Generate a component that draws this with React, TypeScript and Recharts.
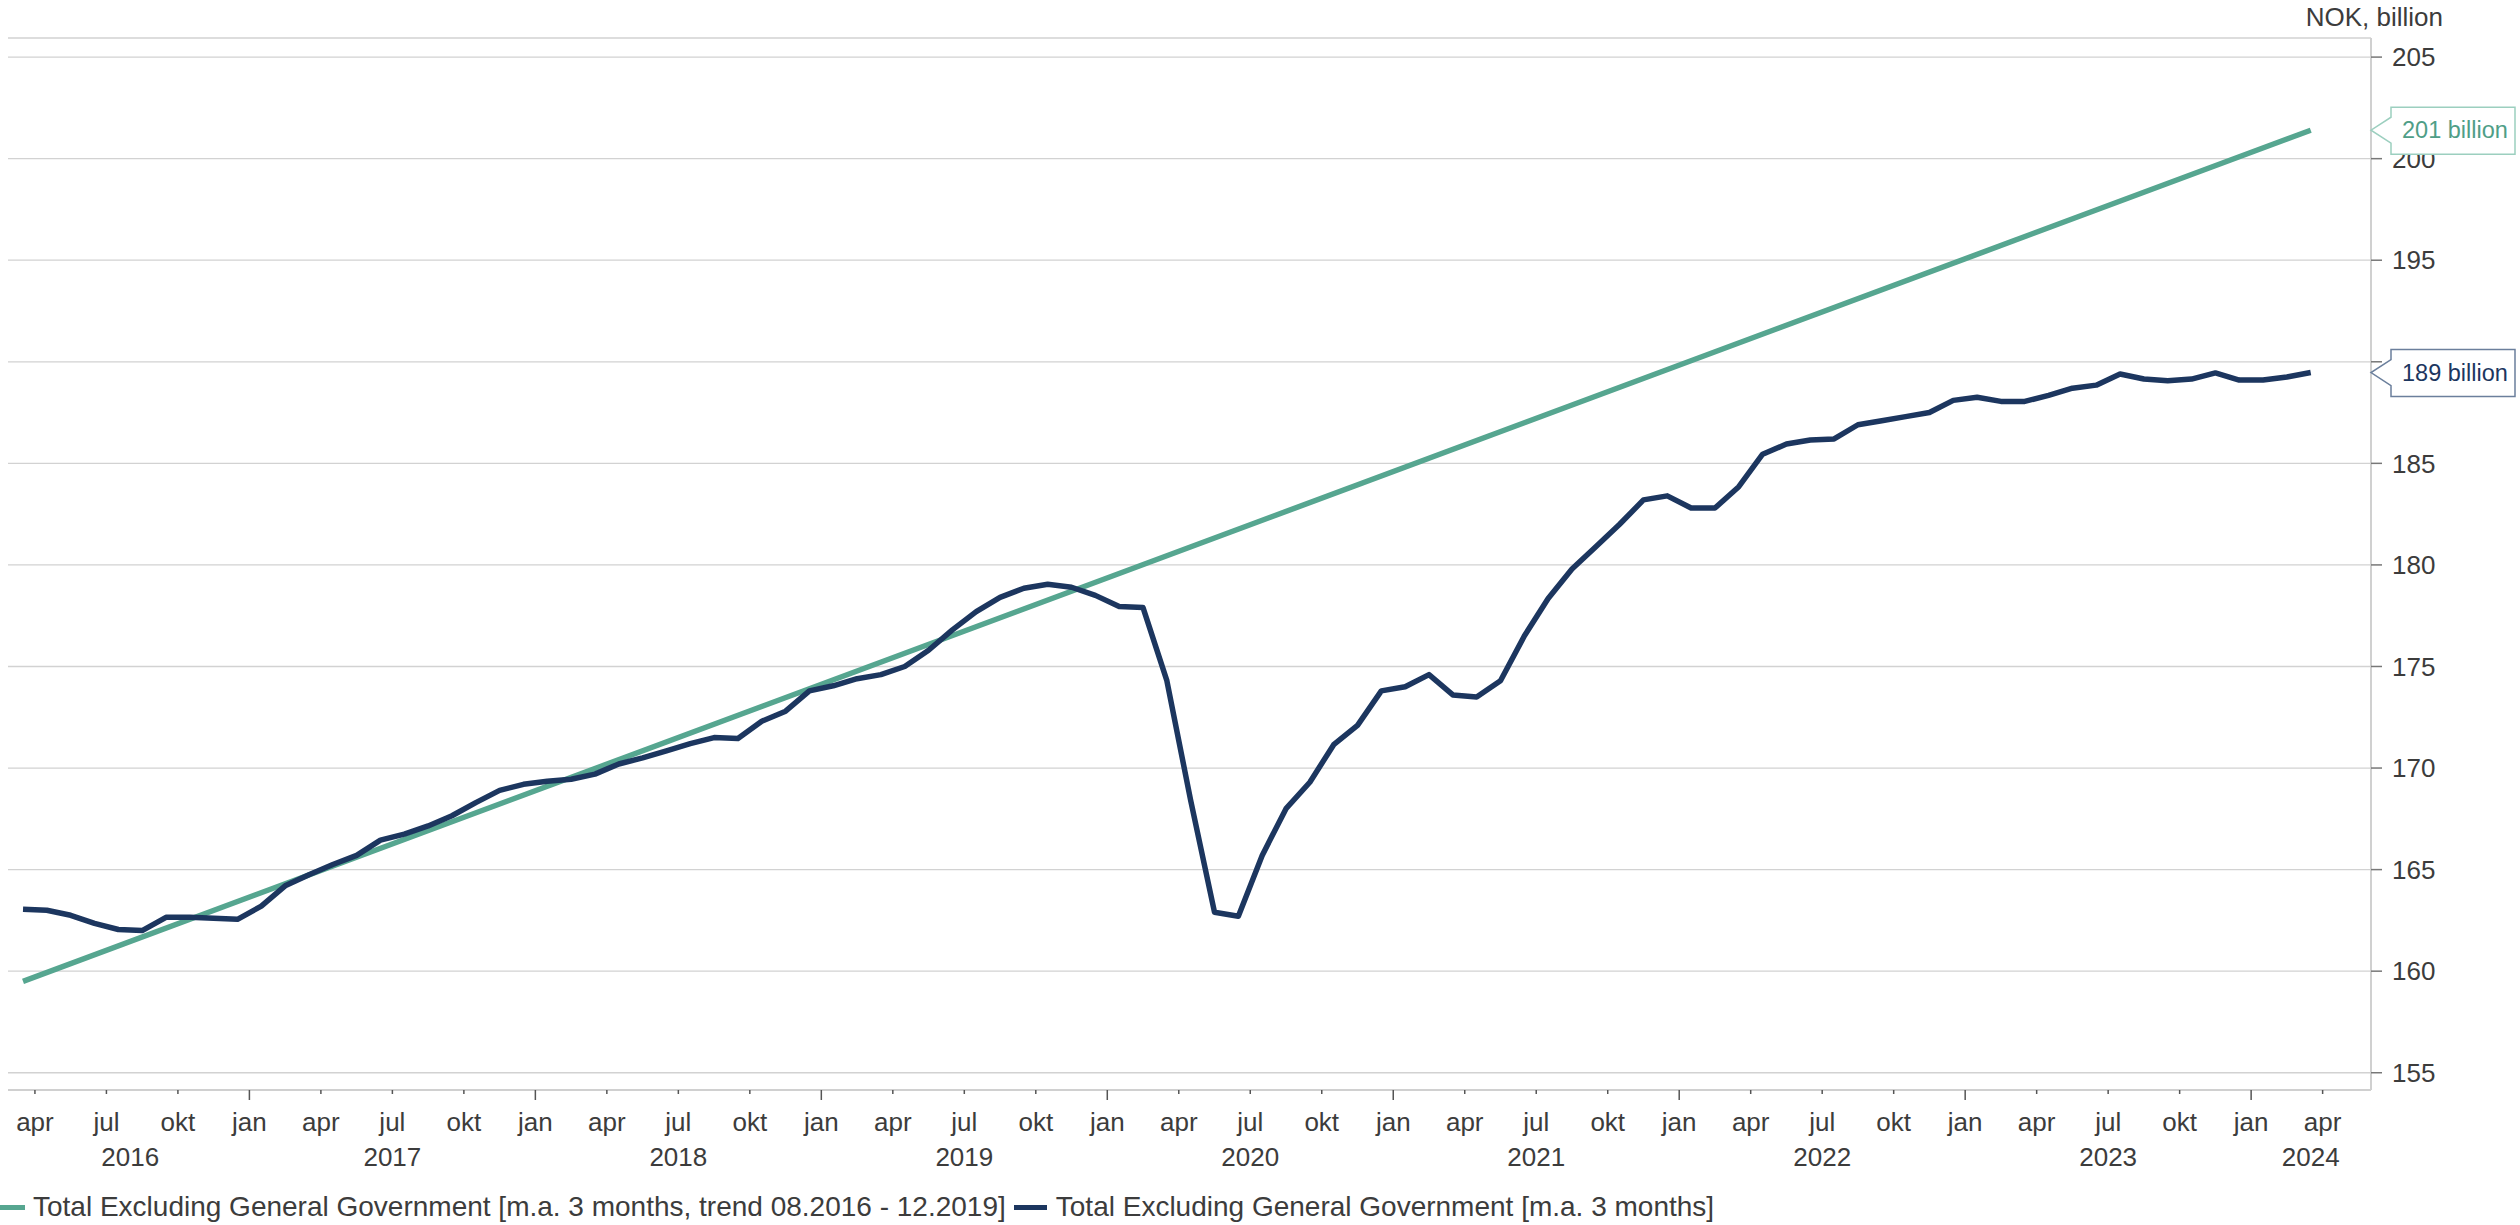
import React from 'react';
import { LineChart, Line, XAxis, YAxis, CartesianGrid, ReferenceDot } from 'recharts';

// monthly points, apr 2016 .. apr 2024 (index 0 = apr 2016)
const firstMonth = 3; // april, 0-based
const monthNames = ['jan', 'feb', 'mar', 'apr', 'mai', 'jun', 'jul', 'aug', 'sep', 'okt', 'nov', 'des'];

// Total Excluding General Government [m.a. 3 months], NOK billion
const totalExGov = [
  163.05, 163.0, 162.75, 162.35, 162.05, 162.0, 162.65, 162.65, 162.6,
  162.55, 163.2, 164.2, 164.75, 165.25, 165.7, 166.45, 166.75, 167.15, 167.65, 168.3, 168.9,
  169.2, 169.35, 169.45, 169.7, 170.2, 170.5, 170.85, 171.2, 171.5, 171.45, 172.3, 172.8,
  173.8, 174.05, 174.4, 174.6, 175.0, 175.8, 176.8, 177.7, 178.4, 178.85, 179.05, 178.9,
  178.5, 177.95, 177.9, 174.3, 168.4, 162.9, 162.7, 165.7, 168.0, 169.3, 171.15, 172.1,
  173.8, 174.0, 174.6, 173.6, 173.5, 174.3, 176.5, 178.35, 179.8, 180.9, 182.0, 183.2,
  183.4, 182.8, 182.8, 183.85, 185.45, 185.95, 186.15, 186.2, 186.9, 187.1, 187.3, 187.5,
  188.1, 188.25, 188.05, 188.05, 188.35, 188.7, 188.85, 189.4, 189.15, 189.07, 189.15, 189.45,
  189.1, 189.1, 189.25, 189.47,
];

// trend 08.2016 - 12.2019, drawn as a straight line between its end points
const trendIndex = [0, 96];
const trendValues = [159.5, 201.4];

const yTicks = [155, 160, 165, 170, 175, 180, 185, 190, 195, 200, 205];
const quarterTicks = Array.from({ length: 33 }, (_, k) => k * 3 + 0.5);
const yearTickPos = [4.5, 15.5, 27.5, 39.5, 51.5, 63.5, 75.5, 87.5, 96];
const yearLabels = ['2016', '2017', '2018', '2019', '2020', '2021', '2022', '2023', '2024'];

const xDomain: [number, number] = [-0.63, 98.53];
const yDomain: [number, number] = [154.15, 205.94];

const NAVY = '#1c365f';
const GREEN = '#56a690';
const TEXT = '#3c3c3c';
const FONT = '"Liberation Sans", Arial, sans-serif';

const rows = totalExGov.map((v, i) => {
  const t = trendIndex.indexOf(i);
  return { i, total: v, trend: t >= 0 ? trendValues[t] : null };
});

const MonthTick = (props: any) => {
  const { x, y, payload } = props;
  const name = monthNames[(firstMonth + Math.floor(payload.value)) % 12];
  const isJan = name === 'jan';
  return (
    <g>
      <line x1={x} x2={x} y1={y} y2={y + (isJan ? 10 : 4)} stroke="#555" strokeWidth={1.5} />
      <text x={x} y={y + 41} textAnchor="middle" fontSize={26} fill={TEXT} fontFamily={FONT}>
        {name}
      </text>
    </g>
  );
};

const YearTick = (props: any) => {
  const { x, y, payload } = props;
  const idx = yearTickPos.indexOf(payload.value);
  return (
    <text x={x} y={y + 26} textAnchor="middle" fontSize={26} fill={TEXT} fontFamily={FONT}>
      {yearLabels[idx]}
    </text>
  );
};

const makeCallout = (value: number, color: string, border: string) => (props: any) => {
  const { cx, cy } = props;
  const bx = cx + 20;
  const right = cx + 144;
  return (
    <g>
      <path
        d={`M${cx},${cy} L${bx},${cy - 13} V${cy - 23} H${right} V${cy + 24} H${bx} V${cy + 13} Z`}
        fill="#fff"
        stroke="none"
      />
      <path
        d={`M${bx},${cy - 13} V${cy - 23} H${right} V${cy + 24} H${bx} V${cy + 13} L${cx},${cy} Z`}
        fill="none"
        stroke={border}
        strokeWidth={1.5}
      />
      <text x={bx + 11} y={cy + 8} fontSize={23.5} fill={color} fontFamily={FONT}>
        {`${Math.round(value)} billion`}
      </text>
    </g>
  );
};

export default function App() {
  const lastTotal = totalExGov[totalExGov.length - 1];
  const lastTrend = trendValues[trendValues.length - 1];
  return (
    <div style={{ position: 'absolute', left: 0, top: 0, width: 2520, height: 1225, background: '#fff', fontFamily: FONT }}>
      <div style={{ position: 'absolute', top: 2, right: 77, fontSize: 26, color: TEXT }}>NOK, billion</div>
      <LineChart width={2520} height={1225} data={rows} margin={{ top: 38, right: 0, left: 8, bottom: 50 }}>
        <CartesianGrid horizontal vertical={false} stroke="#d2d2d2" strokeWidth={1.3} />
        <XAxis
          dataKey="i"
          type="number"
          domain={xDomain}
          ticks={quarterTicks}
          allowDataOverflow
          interval={0}
          height={50}
          tickSize={0}
          tickMargin={0}
          tickLine={false}
          axisLine={{ stroke: '#d0d0d0', strokeWidth: 2 }}
          tick={<MonthTick />}
        />
        <XAxis
          xAxisId="year"
          dataKey="i"
          type="number"
          domain={xDomain}
          ticks={yearTickPos}
          allowDataOverflow
          interval={0}
          height={35}
          tickSize={0}
          tickMargin={0}
          tickLine={false}
          axisLine={false}
          tick={<YearTick />}
        />
        <YAxis
          orientation="right"
          domain={yDomain}
          ticks={yTicks}
          allowDataOverflow
          width={149}
          tickSize={11}
          tickMargin={10}
          axisLine={{ stroke: '#d0d0d0', strokeWidth: 2 }}
          tickLine={{ stroke: '#777', strokeWidth: 1.5 }}
          tick={{ fontSize: 26, fill: TEXT, fontFamily: FONT }}
        />
        <Line
          type="linear"
          dataKey="trend"
          stroke={GREEN}
          strokeWidth={5.5}
          dot={false}
          connectNulls
          isAnimationActive={false}
        />
        <Line
          type="linear"
          dataKey="total"
          stroke={NAVY}
          strokeWidth={5.5}
          dot={false}
          strokeLinejoin="round"
          isAnimationActive={false}
        />
        <ReferenceDot zIndex={3000} x={xDomain[1]} y={lastTrend} ifOverflow="visible" shape={makeCallout(lastTrend, '#4f9e87', '#9ccfbf')} />
        <ReferenceDot zIndex={3000} x={xDomain[1]} y={lastTotal} ifOverflow="visible" shape={makeCallout(lastTotal, NAVY, '#6b7f9c')} />
      </LineChart>
      <div style={{ position: 'absolute', left: 0, top: 1191, display: 'flex', alignItems: 'center', fontSize: 28, color: TEXT, whiteSpace: 'nowrap' }}>
        <span style={{ display: 'inline-block', width: 25, height: 5, background: GREEN, marginRight: 8 }} />
        <span>Total Excluding General Government [m.a. 3 months, trend 08.2016 - 12.2019]</span>
        <span style={{ display: 'inline-block', width: 33, height: 5, background: NAVY, marginLeft: 8, marginRight: 9 }} />
        <span>Total Excluding General Government [m.a. 3 months]</span>
      </div>
    </div>
  );
}
